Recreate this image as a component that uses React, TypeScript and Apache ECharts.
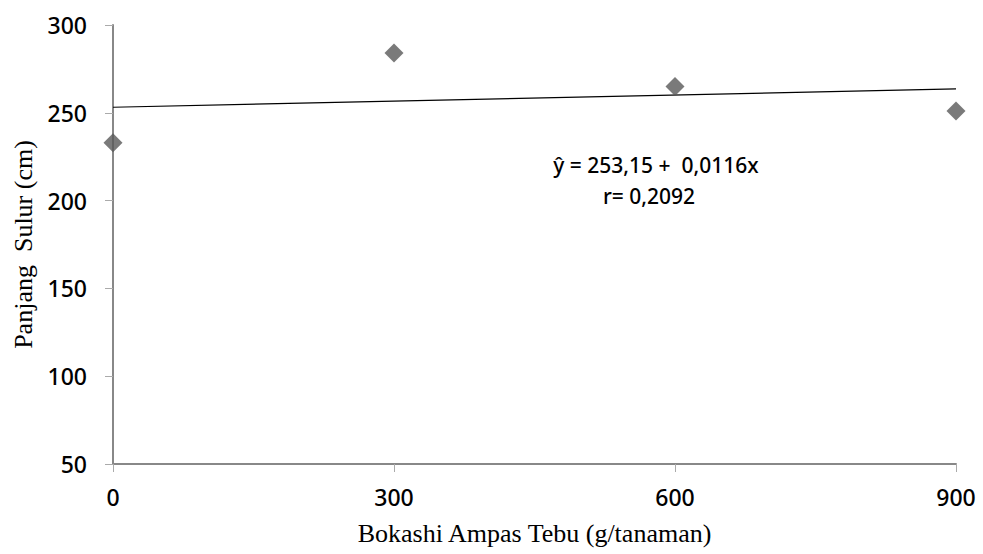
import React, { useEffect, useRef } from "react";
import * as echarts from "echarts";

const xValues = [0, 300, 600, 900];
const yValues = [233, 284, 265, 251];
const intercept = 253.15;
const slope = 0.0116;
const yTicks = [50, 100, 150, 200, 250, 300];
const xTicks = [0, 300, 600, 900];
const equationLines = ["ŷ = 253,15 +  0,0116x", "r= 0,2092"];

export default function App() {
  const ref = useRef<HTMLDivElement>(null);
  useEffect(() => {
    if (!ref.current) return;
    const chart = echarts.init(ref.current, null, { renderer: "svg" });
    const trend = [
      [xTicks[0], intercept + slope * xTicks[0]],
      [xTicks[xTicks.length - 1], intercept + slope * xTicks[xTicks.length - 1]],
    ];
    const labelFont = "'Noto Sans', Roboto, sans-serif";
    const serif = "'Liberation Serif', 'Times New Roman', serif";
    chart.setOption({
      animation: false,
      grid: { left: 113, right: 27, top: 25, bottom: 90, containLabel: false, outerBoundsMode: "none" },
      xAxis: {
        type: "value",
        min: 0,
        max: 900,
        interval: 300,
        name: "Bokashi Ampas Tebu (g/tanaman)",
        nameLocation: "middle",
        nameGap: 56,
        nameTextStyle: { fontFamily: serif, fontSize: 26, color: "#000" },
        axisLine: { show: true, lineStyle: { color: "#888", width: 2 } },
        axisTick: { show: true, length: 8, lineStyle: { color: "#aaa", width: 1 } },
        axisLabel: { fontFamily: labelFont, fontSize: 23, fontWeight: 500, color: "#000", margin: 21 },
        splitLine: { show: false },
      },
      yAxis: {
        type: "value",
        min: 50,
        max: 300,
        interval: 50,
        name: "Panjang  Sulur (cm)",
        nameLocation: "middle",
        nameGap: 74,
        nameTextStyle: { fontFamily: serif, fontSize: 26, color: "#000" },
        axisLine: { show: true, lineStyle: { color: "#888", width: 2 } },
        axisTick: { show: true, length: 8, lineStyle: { color: "#aaa", width: 1 } },
        axisLabel: {
          fontFamily: labelFont,
          fontSize: 23,
          fontWeight: 500,
          color: "#000",
          margin: 26,
          formatter: (v: number) => (yTicks.includes(v) ? String(v) : ""),
        },
        splitLine: { show: false },
      },
      series: [
        {
          type: "line",
          data: trend,
          symbol: "none",
          lineStyle: { color: "#000", width: 1.2 },
          z: 1,
        },
        {
          type: "scatter",
          data: xValues.map((x, i) => [x, yValues[i]]),
          symbol: "diamond",
          symbolSize: [19, 19],
          itemStyle: { color: "#595959" },
          z: 3,
        },
      ],
      graphic: [
        {
          type: "text",
          x: 656,
          y: 165,
          style: {
            text: equationLines[0],
            fontFamily: labelFont,
            fontSize: 21,
            fontWeight: 500,
            fill: "#000",
            align: "center",
            verticalAlign: "middle",
          },
        },
        {
          type: "text",
          x: 649,
          y: 196,
          style: {
            text: equationLines[1],
            fontFamily: labelFont,
            fontSize: 21,
            fontWeight: 500,
            fill: "#000",
            align: "center",
            verticalAlign: "middle",
          },
        },
      ],
    });
    return () => chart.dispose();
  }, []);
  return <div ref={ref} style={{ width: 983, height: 554, position: "absolute", left: 0, top: 0 }} />;
}
